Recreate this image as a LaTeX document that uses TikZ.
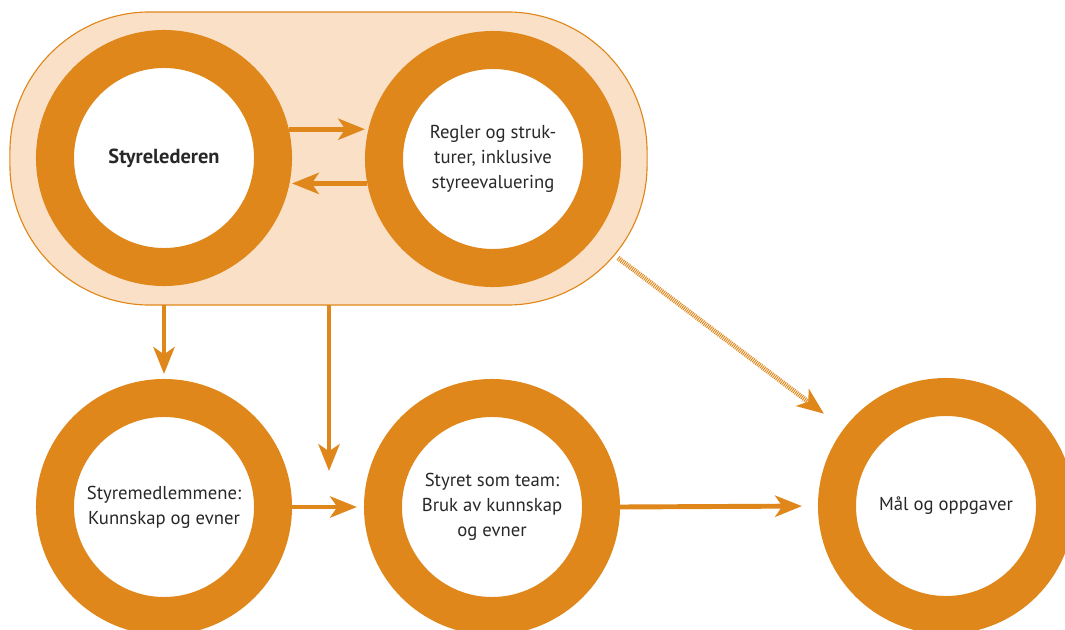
\documentclass[tikz,border=0pt]{standalone}
\usepackage{fontspec}
\setmainfont{PT Sans}
\usetikzlibrary{arrows.meta,positioning}
\definecolor{oransje}{RGB}{223,135,26}
\definecolor{fersken}{RGB}{249,224,199}
\definecolor{tekst}{RGB}{40,40,40}

\begin{document}
\begin{tikzpicture}[x=0.025cm,y=-0.025cm,
  ring/.style={circle,draw=oransje,line width=0.95cm,fill=white,minimum size=5.45cm,
    inner sep=0pt,align=center,text=tekst,font=\fontsize{13.3}{17.8}\selectfont},
  pill/.style={draw=oransje,line width=0.8pt,fill=fersken,rounded corners=3.5cm,
    minimum width=15.925cm,minimum height=7.325cm,inner sep=0pt,outer sep=0pt},
  arr/.style={draw=oransje,line width=3.5pt,-{Stealth[length=19pt,width=15pt,inset=5pt]}},
  prikk/.style={arr,dash pattern=on 0.7pt off 0.7pt}]
  \clip (0,0) rectangle (1065,630);

  % gruppe
  \node[pill] (pill) at (328.5,158.5) {};

  % ringene
  \node[ring] (leder)  at (164,158) {\textbf{\fontsize{14.5}{17.8}\selectfont Styrelederen}};
  \node[ring] (regler) at (493,159) {Regler og struk-\\turer, inklusive\\styreevaluering};
  \node[ring] (medl)   at (164,507) {Styremedlemmene:\\Kunnskap og evner};
  \node[ring] (team)   at (492,507) {Styret som team:\\Bruk av kunnskap\\og evner};
  \node[ring] (maal)   at (946,506) {Mål og oppgaver};

  \coordinate (teamtopp) at (329,471);
  \coordinate (prikkstart) at (618,258);

  % piler
  \draw[arr] (leder.13) -- (leder.13 -| regler.west);
  \draw[arr] (regler.191) -- (regler.191 -| leder.east);
  \draw[arr,shorten >=0.125cm] (pill.south -| medl) -- (medl.north);
  \draw[arr] (pill.south -| teamtopp) -- (teamtopp);
  \draw[arr,shorten >=0.175cm] (medl.east) -- (team.west);
  \draw[arr,shorten >=0.4cm] (team.east) -- (maal.west);
  \draw[prikk,shorten >=0.625cm] (prikkstart) -- (maal);
\end{tikzpicture}
\end{document}
